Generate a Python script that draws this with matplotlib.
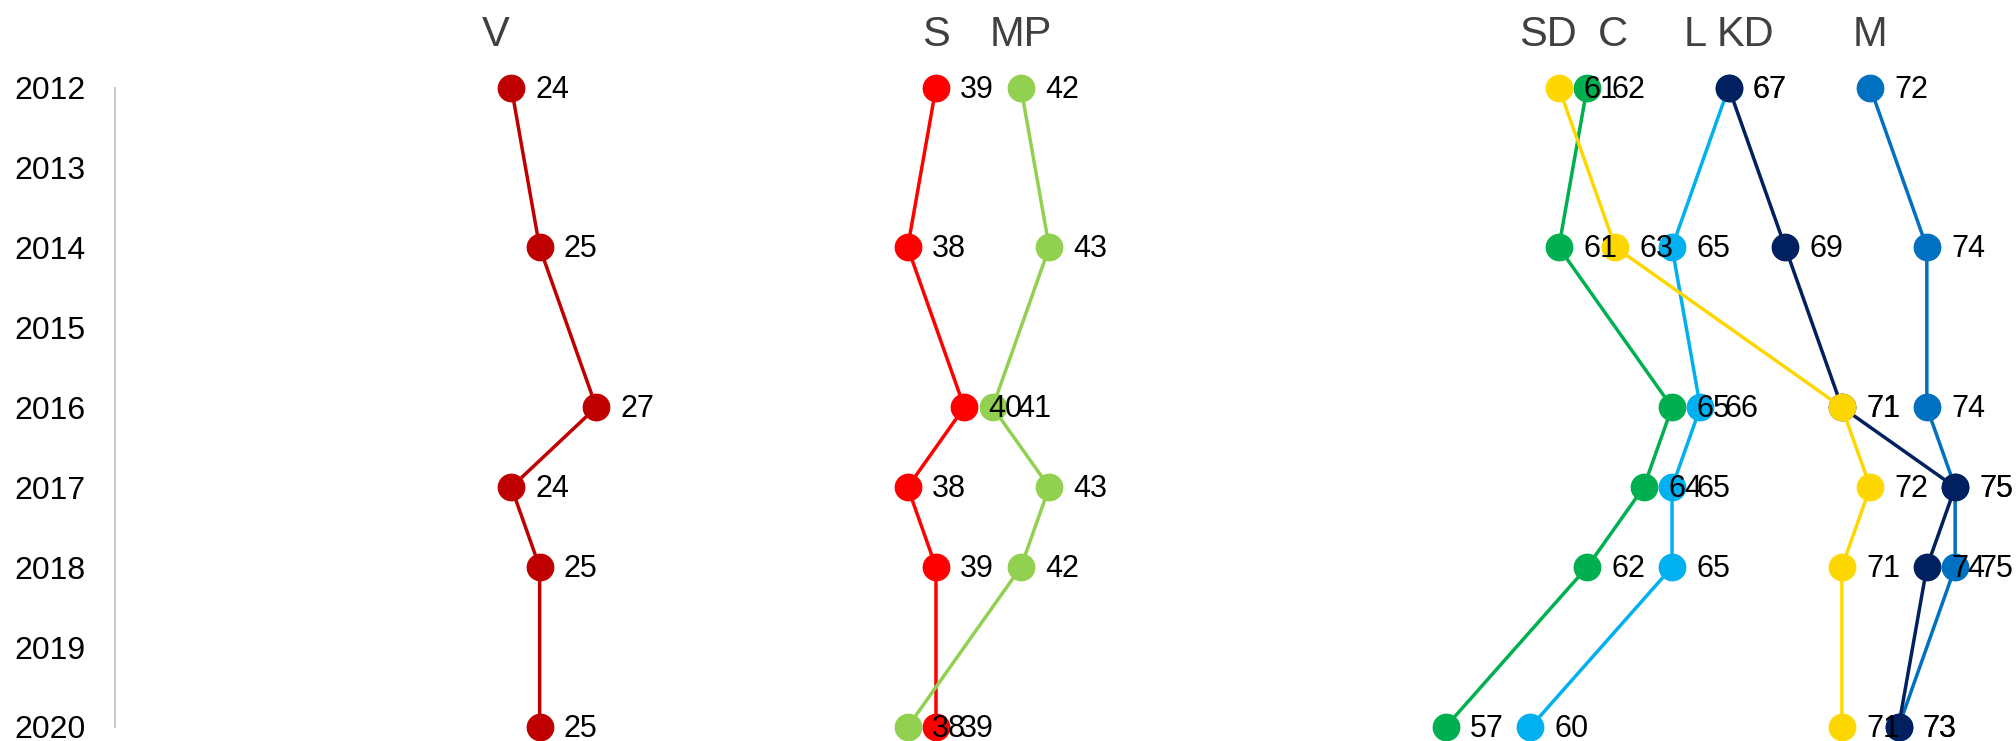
import matplotlib.pyplot as plt

plt.rcParams['font.family'] = ['Liberation Sans', 'DejaVu Sans']

# Data
years = [2012, 2014, 2016, 2017, 2018, 2020]
all_years = list(range(2012, 2021))
parties = ['V', 'S', 'MP', 'C', 'L', 'M', 'KD', 'SD']  # drawing order
V = [24, 25, 27, 24, 25, 25]
S = [39, 38, 40, 38, 39, 39]
MP = [42, 43, 41, 43, 42, 38]
C = [62, 61, 65, 64, 62, 57]
L = [67, 65, 66, 65, 65, 60]
SD = [61, 63, 71, 72, 71, 71]
KD = [67, 69, 71, 75, 74, 73]
M = [72, 74, 74, 75, 75, 73]
values = {'V': V, 'S': S, 'MP': MP, 'C': C, 'L': L, 'SD': SD, 'KD': KD, 'M': M}

colors = {'V': '#C00000', 'S': '#FF0000', 'MP': '#92D050', 'C': '#00B050',
          'L': '#00B0F0', 'SD': '#FFD700', 'KD': '#002060', 'M': '#0070C0'}
# horizontal nudge of the party name relative to its 2012 point (data units)
name_shift = {'V': -0.55, 'S': 0, 'MP': 0, 'C': 0.9, 'L': -1.2,
              'SD': -0.4, 'KD': 0.6, 'M': 0}

fig = plt.figure(figsize=(20.16, 7.41), dpi=100)
ax = fig.add_axes([115 / 2016, 14 / 741, 1 - 115 / 2016, (727 - 87.5) / 741])

for p in parties:
    vals = values[p]
    ax.plot(vals, years, color=colors[p], lw=2.5, marker='o', ms=19,
            clip_on=False, zorder=3)
    for v, y in zip(vals, years):
        ax.annotate(str(v), (v, y), xytext=(17.5, -1.5), textcoords='offset points',
                    ha='left', va='center', fontsize=22, color='black',
                    zorder=10, annotation_clip=False)
    ax.annotate(p, (vals[0] + name_shift[p], 2012), xytext=(0, 38),
                textcoords='offset points', ha='center', va='center',
                fontsize=30, color='#404040', annotation_clip=False)

ax.set_xlim(10, 10 + 1901 / 28.31)
ax.set_ylim(2020, 2012)
ax.set_yticks(all_years)
ax.set_yticklabels([str(y) for y in all_years], fontsize=23)
ax.tick_params(axis='y', length=0, pad=21)
ax.set_xticks([])
for s in ['top', 'right', 'bottom']:
    ax.spines[s].set_visible(False)
ax.spines['left'].set_color('#C8C8C8')
ax.spines['left'].set_linewidth(1.4)

fig.savefig('out.png', dpi=100, facecolor='white')
